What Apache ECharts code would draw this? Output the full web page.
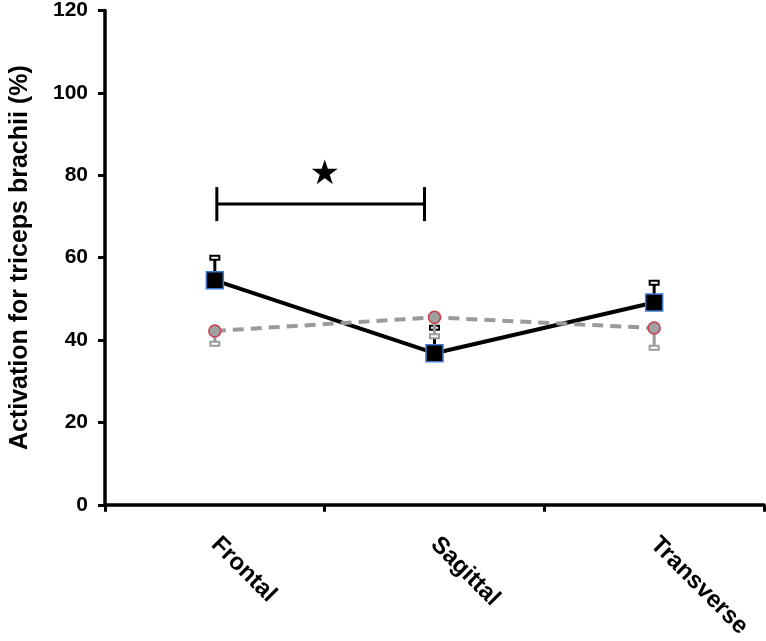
<!DOCTYPE html>
<html><head><meta charset="utf-8">
<script src="https://cdn.jsdelivr.net/npm/echarts@6/dist/echarts.min.js"></script>
<style>html,body{margin:0;padding:0;background:#fff}#c{width:766px;height:641px}</style>
</head><body><div id="c"></div>
<script>
var categories = ['Frontal', 'Sagittal', 'Transverse'];
var blackMean = [54.5, 36.8, 49.1];
var blackErr = [5.5, 6.2, 4.8];
var grayMean = [42.2, 45.5, 42.9];
var grayErr = [3.1, 4.6, 4.8];
var yTicks = [0, 20, 40, 60, 80, 100, 120];
var bracketFrom = 0, bracketTo = 1, bracketY = 73, starY = 80;

var FONT = 'Liberation Sans, Arial, sans-serif';
var chart = echarts.init(document.getElementById('c'));

function errBar(color, dir, means, errs, capW) {
  return {
    type: 'custom', z: 1,
    data: means.map(function (m, i) { return [i, m, errs[i]]; }),
    renderItem: function (params, api) {
      var i = api.value(0), m = api.value(1), e = api.value(2);
      var p0 = api.coord([i, m]);
      var p1 = api.coord([i, m + dir * e]);
      return {
        type: 'group', children: [
          { type: 'line', shape: { x1: p0[0], y1: p0[1], x2: p1[0], y2: p1[1] }, style: { stroke: color, lineWidth: 3 } },
          { type: 'rect', shape: { x: p1[0] - capW / 2, y: p1[1] - 2, width: capW, height: 4 }, style: { fill: '#fff', stroke: color, lineWidth: 2 } }
        ]
      };
    }
  };
}

var option = {
  animation: false,
  grid: { left: 91, right: 2, top: 9, bottom: 126, containLabel: false },
  xAxis: {
    type: 'category', data: categories, boundaryGap: true,
    axisLine: { lineStyle: { color: '#000', width: 3.5 } },
    axisTick: { show: true, length: 7, lineStyle: { color: '#000', width: 3 }, alignWithLabel: false },
    axisLabel: { rotate: -45, margin: 36, color: '#000', fontFamily: FONT, fontWeight: 'bold', fontSize: 24 }
  },
  yAxis: {
    type: 'value', min: 0, max: 120, interval: 20,
    name: 'Activation for triceps brachii (%)', nameLocation: 'middle', nameGap: 72, nameRotate: 90,
    nameTextStyle: { color: '#000', fontFamily: FONT, fontWeight: 'bold', fontSize: 25 },
    splitLine: { show: false },
    axisLine: { show: true, lineStyle: { color: '#000', width: 3.5 } },
    axisTick: { show: true, length: 7, lineStyle: { color: '#000', width: 3 } },
    axisLabel: { margin: 17, color: '#000', fontFamily: FONT, fontWeight: 'bold', fontSize: 21,
      formatter: function (v) { return yTicks.indexOf(v) >= 0 ? String(v) : ''; } }
  },
  series: [
    errBar('#000', 1, blackMean, blackErr, 9),
    errBar('#9a9a9a', -1, grayMean, grayErr, 9),
    {
      type: 'line', data: blackMean, z: 3,
      lineStyle: { color: '#000', width: 4 },
      symbol: 'rect', symbolSize: 17,
      itemStyle: { color: '#000', borderColor: '#3f7bd0', borderWidth: 1.5 }
    },
    {
      type: 'line', data: grayMean, z: 4,
      lineStyle: { color: '#9a9a9a', width: 4, type: [11, 7] },
      symbol: 'circle', symbolSize: 12,
      itemStyle: { color: '#a0a0a0', borderColor: '#c8404e', borderWidth: 1.5 }
    },
    {
      type: 'custom', z: 5,
      data: [[bracketFrom, bracketTo, bracketY, starY]],
      renderItem: function (params, api) {
        var a = api.coord([api.value(0), api.value(2)]);
        var b = api.coord([api.value(1), api.value(2)]);
        var s = api.coord([api.value(0), api.value(3)]);
        var mx = (a[0] + b[0]) / 2;
        return {
          type: 'group', children: [
            { type: 'line', shape: { x1: a[0] + 2, y1: a[1], x2: b[0] - 10, y2: b[1] }, style: { stroke: '#000', lineWidth: 3 } },
            { type: 'line', shape: { x1: a[0] + 2, y1: a[1] - 17, x2: a[0] + 2, y2: a[1] + 17 }, style: { stroke: '#000', lineWidth: 3 } },
            { type: 'line', shape: { x1: b[0] - 10, y1: b[1] - 17, x2: b[0] - 10, y2: b[1] + 17 }, style: { stroke: '#000', lineWidth: 3 } },
            { type: 'text', x: mx, y: s[1], style: { text: '★', fill: '#000', fontSize: 34, fontFamily: 'DejaVu Sans', align: 'center', verticalAlign: 'middle' } }
          ]
        };
      }
    }
  ]
};
chart.setOption(option);
</script></body></html>
